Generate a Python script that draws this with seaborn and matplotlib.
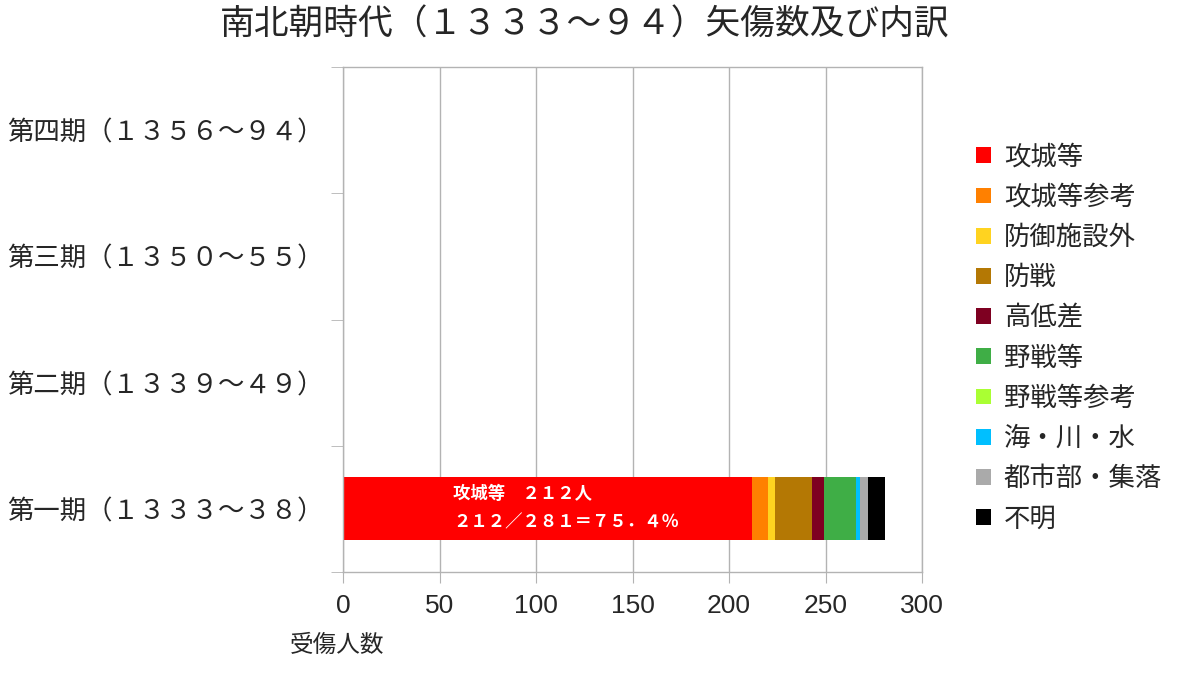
import pandas as pd
import matplotlib.pyplot as plt
import seaborn as sns
from matplotlib.patches import Patch

# data
periods = ["第四期（１３５６～９４）", "第三期（１３５０～５５）",
           "第二期（１３３９～４９）", "第一期（１３３３～３８）"]
kinds = ["攻城等", "攻城等参考", "防御施設外", "防戦", "高低差",
         "野戦等", "野戦等参考", "海・川・水", "都市部・集落", "不明"]
period4 = [0, 0, 0, 0, 0, 0, 0, 0, 0, 0]
period3 = [0, 0, 0, 0, 0, 0, 0, 0, 0, 0]
period2 = [0, 0, 0, 0, 0, 0, 0, 0, 0, 0]
period1 = [212, 8, 4, 19, 6, 17, 0, 2, 4, 9]
colors = ["#ff0000", "#ff8000", "#ffd320", "#b47804", "#7e0021",
          "#3fae46", "#aaff33", "#00bfff", "#aaaaaa", "#000000"]

df = pd.DataFrame([period4, period3, period2, period1], index=periods, columns=kinds)
cum = df.cumsum(axis=1)

sns.set_style("white")
plt.rcParams["font.family"] = ["Noto Sans CJK JP", "DejaVu Sans"]

fig = plt.figure(figsize=(12, 6.73), dpi=100)
ax = fig.add_axes([343 / 1200, 1 - 572 / 673, 579 / 1200, 505 / 673])

# stacked bars: draw cumulative totals from the last series to the first
for kind, col in reversed(list(zip(kinds, colors))):
    sns.barplot(x=cum[kind].values, y=cum.index, order=periods, orient="h",
                color=col, width=0.5, saturation=1, ax=ax, linewidth=0)

ax.set_xlim(0, 300)
ax.set_xticks(range(0, 301, 50))
ax.set_ylim(3.5, -0.5)
ax.grid(axis="x", color="#b3b3b3", linewidth=1)
ax.grid(axis="y", visible=False)
ax.set_axisbelow(True)
for s in ax.spines.values():
    s.set_color("#b3b3b3")
    s.set_linewidth(1)
ax.set_xlabel("")
ax.set_ylabel("")

ax.tick_params(axis="x", which="major", length=8, color="#b3b3b3", bottom=True,
               labelsize=19, pad=8, direction="out")
for lab in ax.get_xticklabels():
    lab.set_family(["Liberation Sans", "DejaVu Sans"])
ax.tick_params(axis="y", which="major", length=0, labelsize=19, pad=14)
ax.set_yticks([-0.5, 0.5, 1.5, 2.5, 3.5], minor=True)
ax.tick_params(axis="y", which="minor", length=9, color="#b3b3b3", left=True,
               direction="out")

# annotation inside the first-period bar
total = df.loc[periods[3]].sum()
share = df.loc[periods[3], kinds[0]] / total * 100
fw = str.maketrans("0123456789.%/=", "０１２３４５６７８９．％／＝")
line1 = f"{kinds[0]}　{df.loc[periods[3], kinds[0]]}人".translate(fw)
line2 = f"{df.loc[periods[3], kinds[0]]}/{total}={share:.1f}%".translate(fw)
ax.text(57, 2.88, line1, color="white", fontsize=12.5, fontweight="bold",
        ha="left", va="center")
ax.text(57, 3.11, line2, color="white", fontsize=12.5, fontweight="bold",
        ha="left", va="center")

fig.text(0.487, 1 - 25 / 673, "南北朝時代（１３３３～９４）矢傷数及び内訳",
         fontsize=25, ha="center", va="center")
fig.text(290 / 1200, 1 - 645 / 673, "受傷人数", fontsize=17, ha="left", va="center")

handles = [Patch(facecolor=c, edgecolor="none") for c in colors]
fig.legend(handles, kinds, loc="center left", bbox_to_anchor=(963 / 1200, 1 - 338 / 673),
           frameon=False, fontsize=19, handlelength=0.55, handleheight=0.55,
           handletextpad=0.5, labelspacing=0.5, borderpad=0)

fig.savefig("out.png", dpi=100)
